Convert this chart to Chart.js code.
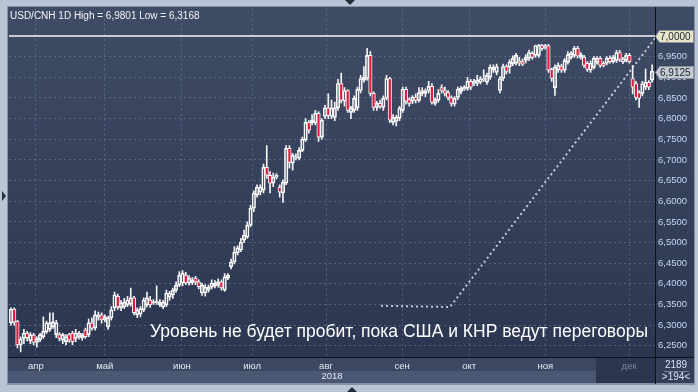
<!DOCTYPE html>
<html>
<head>
<meta charset="utf-8">
<script src="https://cdn.jsdelivr.net/npm/chart.js@4.4.1/dist/chart.umd.min.js"></script>
<style>
  html, body { margin: 0; padding: 0; background: #b9c5d5; overflow: hidden; }
  canvas { display: block; }
</style>
</head>
<body>
<canvas id="usdcnh" width="698" height="392"></canvas>
<script>
// USD/CNH daily candles (index 0 = first candle, late March 2018)
const opens = [
  6.306, 6.339, 6.310, 6.252, 6.268, 6.281, 6.262, 6.276, 6.258, 6.265,
  6.272, 6.284, 6.290, 6.296, 6.277, 6.277, 6.264, 6.260, 6.277, 6.281,
  6.268, 6.272, 6.270, 6.289, 6.277, 6.306, 6.293, 6.320, 6.325, 6.313,
  6.296, 6.318, 6.342, 6.370, 6.342, 6.344, 6.349, 6.351, 6.366, 6.325,
  6.327, 6.337, 6.349, 6.361, 6.354, 6.354, 6.349, 6.344, 6.349, 6.368,
  6.373, 6.385, 6.397, 6.402, 6.421, 6.402, 6.402, 6.414, 6.405, 6.378,
  6.378, 6.385, 6.392, 6.395, 6.397, 6.405, 6.385, 6.414, 6.441, 6.453,
  6.475, 6.482, 6.506, 6.513, 6.542, 6.583, 6.615, 6.622, 6.627, 6.682,
  6.663, 6.644, 6.658, 6.634, 6.620, 6.644, 6.728, 6.692, 6.704, 6.704,
  6.723, 6.748, 6.791, 6.790, 6.790, 6.813, 6.755, 6.805, 6.826, 6.805,
  6.803, 6.826, 6.885, 6.842, 6.868, 6.815, 6.820, 6.826, 6.868, 6.893,
  6.897, 6.953, 6.861, 6.827, 6.837, 6.827, 6.849, 6.897, 6.791, 6.793,
  6.801, 6.820, 6.871, 6.846, 6.842, 6.852, 6.844, 6.861, 6.861, 6.868,
  6.878, 6.837, 6.844, 6.875, 6.868, 6.863, 6.851, 6.835, 6.851, 6.866,
  6.871, 6.873, 6.890, 6.885, 6.885, 6.888, 6.893, 6.888, 6.900, 6.917,
  6.912, 6.868, 6.897, 6.926, 6.925, 6.933, 6.934, 6.940, 6.938, 6.941,
  6.946, 6.958, 6.953, 6.953, 6.977, 6.972, 6.977, 6.919, 6.875, 6.917,
  6.926, 6.917, 6.936, 6.948, 6.953, 6.970, 6.948, 6.948, 6.934, 6.917,
  6.924, 6.936, 6.946, 6.934, 6.934, 6.946, 6.938, 6.941, 6.960, 6.943,
  6.941, 6.953, 6.897, 6.885, 6.863, 6.861, 6.876, 6.888, 6.893
];
const highs = [
  6.342, 6.342, 6.312, 6.272, 6.290, 6.285, 6.282, 6.280, 6.272, 6.280,
  6.320, 6.310, 6.330, 6.330, 6.312, 6.282, 6.280, 6.277, 6.280, 6.285,
  6.290, 6.285, 6.280, 6.293, 6.315, 6.318, 6.335, 6.332, 6.330, 6.325,
  6.322, 6.345, 6.380, 6.375, 6.360, 6.365, 6.370, 6.390, 6.370, 6.342,
  6.345, 6.366, 6.380, 6.370, 6.362, 6.395, 6.362, 6.360, 6.385, 6.382,
  6.390, 6.405, 6.430, 6.432, 6.428, 6.420, 6.415, 6.418, 6.410, 6.402,
  6.398, 6.397, 6.410, 6.408, 6.412, 6.410, 6.425, 6.425, 6.460, 6.490,
  6.492, 6.510, 6.530, 6.550, 6.590, 6.625, 6.640, 6.640, 6.690, 6.735,
  6.672, 6.668, 6.667, 6.640, 6.652, 6.735, 6.735, 6.716, 6.715, 6.730,
  6.755, 6.800, 6.795, 6.810, 6.820, 6.817, 6.800, 6.832, 6.860, 6.845,
  6.840, 6.895, 6.910, 6.875, 6.870, 6.830, 6.855, 6.876, 6.905, 6.926,
  6.970, 6.962, 6.865, 6.842, 6.845, 6.855, 6.905, 6.900, 6.810, 6.808,
  6.830, 6.876, 6.876, 6.850, 6.856, 6.860, 6.875, 6.875, 6.872, 6.890,
  6.885, 6.850, 6.870, 6.882, 6.876, 6.868, 6.855, 6.853, 6.876, 6.878,
  6.880, 6.900, 6.895, 6.895, 6.905, 6.902, 6.918, 6.910, 6.930, 6.930,
  6.932, 6.902, 6.932, 6.930, 6.942, 6.952, 6.958, 6.948, 6.944, 6.955,
  6.966, 6.962, 6.978, 6.980, 6.980, 6.980, 6.980, 6.922, 6.930, 6.935,
  6.932, 6.946, 6.962, 6.962, 6.975, 6.975, 6.960, 6.953, 6.938, 6.940,
  6.950, 6.950, 6.950, 6.938, 6.950, 6.952, 6.953, 6.965, 6.965, 6.948,
  6.958, 6.958, 6.929, 6.890, 6.868, 6.890, 6.920, 6.892, 6.930
];
const lows = [
  6.300, 6.300, 6.245, 6.235, 6.255, 6.262, 6.255, 6.252, 6.247, 6.260,
  6.268, 6.280, 6.285, 6.292, 6.270, 6.262, 6.255, 6.252, 6.258, 6.252,
  6.260, 6.266, 6.264, 6.268, 6.272, 6.288, 6.288, 6.312, 6.305, 6.308,
  6.290, 6.312, 6.335, 6.338, 6.335, 6.340, 6.345, 6.346, 6.325, 6.318,
  6.320, 6.333, 6.344, 6.343, 6.350, 6.350, 6.345, 6.340, 6.345, 6.360,
  6.365, 6.380, 6.393, 6.395, 6.398, 6.397, 6.398, 6.398, 6.388, 6.372,
  6.370, 6.380, 6.388, 6.390, 6.392, 6.385, 6.382, 6.410, 6.436, 6.448,
  6.470, 6.478, 6.500, 6.510, 6.538, 6.575, 6.610, 6.615, 6.620, 6.655,
  6.620, 6.635, 6.654, 6.610, 6.597, 6.640, 6.680, 6.675, 6.700, 6.700,
  6.720, 6.745, 6.765, 6.785, 6.785, 6.745, 6.750, 6.800, 6.800, 6.800,
  6.795, 6.820, 6.838, 6.830, 6.815, 6.800, 6.815, 6.820, 6.862, 6.888,
  6.893, 6.855, 6.820, 6.820, 6.825, 6.820, 6.845, 6.790, 6.785, 6.782,
  6.795, 6.815, 6.835, 6.830, 6.836, 6.838, 6.840, 6.855, 6.853, 6.862,
  6.835, 6.832, 6.840, 6.862, 6.855, 6.845, 6.830, 6.830, 6.846, 6.860,
  6.868, 6.868, 6.870, 6.880, 6.880, 6.884, 6.890, 6.883, 6.895, 6.912,
  6.906, 6.862, 6.892, 6.908, 6.910, 6.928, 6.930, 6.928, 6.928, 6.935,
  6.940, 6.943, 6.948, 6.948, 6.965, 6.968, 6.912, 6.890, 6.856, 6.912,
  6.912, 6.912, 6.932, 6.944, 6.948, 6.946, 6.944, 6.924, 6.914, 6.912,
  6.920, 6.932, 6.924, 6.925, 6.930, 6.934, 6.934, 6.936, 6.938, 6.933,
  6.937, 6.934, 6.860, 6.845, 6.827, 6.855, 6.870, 6.870, 6.888
];
const closes = [
  6.339, 6.308, 6.252, 6.267, 6.281, 6.270, 6.277, 6.258, 6.267, 6.277,
  6.285, 6.306, 6.306, 6.308, 6.306, 6.268, 6.277, 6.272, 6.264, 6.260,
  6.281, 6.281, 6.277, 6.272, 6.306, 6.293, 6.325, 6.325, 6.313, 6.320,
  6.318, 6.337, 6.373, 6.344, 6.354, 6.356, 6.361, 6.366, 6.330, 6.337,
  6.340, 6.361, 6.366, 6.349, 6.357, 6.358, 6.356, 6.356, 6.378, 6.378,
  6.385, 6.397, 6.421, 6.426, 6.402, 6.414, 6.409, 6.405, 6.393, 6.397,
  6.392, 6.392, 6.402, 6.402, 6.405, 6.390, 6.417, 6.421, 6.453, 6.477,
  6.487, 6.501, 6.518, 6.542, 6.583, 6.620, 6.634, 6.634, 6.682, 6.663,
  6.644, 6.658, 6.663, 6.622, 6.646, 6.728, 6.694, 6.711, 6.707, 6.723,
  6.750, 6.791, 6.772, 6.796, 6.813, 6.755, 6.796, 6.826, 6.808, 6.826,
  6.826, 6.885, 6.844, 6.868, 6.820, 6.826, 6.849, 6.871, 6.897, 6.900,
  6.953, 6.861, 6.827, 6.837, 6.830, 6.849, 6.897, 6.796, 6.803, 6.803,
  6.825, 6.871, 6.842, 6.837, 6.852, 6.844, 6.863, 6.868, 6.868, 6.878,
  6.839, 6.846, 6.861, 6.868, 6.861, 6.851, 6.837, 6.849, 6.871, 6.873,
  6.876, 6.890, 6.876, 6.890, 6.893, 6.897, 6.897, 6.905, 6.924, 6.924,
  6.926, 6.897, 6.926, 6.914, 6.937, 6.946, 6.953, 6.934, 6.932, 6.948,
  6.960, 6.948, 6.977, 6.978, 6.970, 6.977, 6.917, 6.897, 6.924, 6.929,
  6.917, 6.941, 6.955, 6.958, 6.970, 6.951, 6.955, 6.929, 6.919, 6.934,
  6.946, 6.946, 6.929, 6.929, 6.946, 6.938, 6.948, 6.960, 6.943, 6.938,
  6.953, 6.938, 6.876, 6.851, 6.849, 6.885, 6.888, 6.876, 6.915
];

// month grid lines sit at these candle positions
const monthTicks = [7.7, 29.0, 52.8, 74.5, 97.3, 120.8, 141.5, 165.0, 190.9];
const monthNames = ['апр', 'май', 'июн', 'июл', 'авг', 'сен', 'окт', 'ноя', 'дек'];
const priceTicks = [6.25, 6.30, 6.35, 6.40, 6.45, 6.50, 6.55, 6.60, 6.65, 6.70, 6.75, 6.80, 6.85, 6.90, 6.95, 7.00];

// drawn trend line (candle position, price) and the 7.0 level
const trendX = [114.3, 135.6, 198.9];
const trendY = [6.347, 6.344, 6.994];
const levelPrice = 7.0;
const lastPrice = 6.9125;

const headerText = 'USD/CNH 1D High = 6,9801 Low = 6,3168';
const captionText = 'Уровень не будет пробит, пока США и КНР ведут переговоры';
const yearText = '2018';
const barsTotal = '2189';
const barsShown = '>194<';

const xMin = -0.6, xMax = 198.9;
const FONT = "'Liberation Sans', Arial, sans-serif";
const fmt = v => v.toFixed(4).replace('.', ',');

const bodies = closes.map((c, i) => ({ x: i, y: [opens[i], c] }));
const wickLow = closes.map((c, i) => ({ x: i, y: [lows[i], Math.min(opens[i], c)] }));
const wickHigh = closes.map((c, i) => ({ x: i, y: [Math.max(opens[i], c), highs[i]] }));

function priceBox(ctx, y, text, fill) {
    ctx.beginPath();
    ctx.moveTo(655.5, y);
    ctx.lineTo(659.5, y - 6);
    ctx.lineTo(693.5, y - 6);
    ctx.lineTo(693.5, y + 6);
    ctx.lineTo(659.5, y + 6);
    ctx.closePath();
    ctx.fillStyle = fill;
    ctx.fill();
    ctx.strokeStyle = '#8d919a';
    ctx.lineWidth = 1;
    ctx.stroke();
    ctx.fillStyle = '#1e2330';
    ctx.font = '10px ' + FONT;
    ctx.textAlign = 'left';
    ctx.textBaseline = 'middle';
    ctx.fillText(text, 660, y + 0.5);
}

function tri(ctx, pts) {
    ctx.beginPath();
    ctx.moveTo(pts[0], pts[1]);
    ctx.lineTo(pts[2], pts[3]);
    ctx.lineTo(pts[4], pts[5]);
    ctx.closePath();
    ctx.fill();
}

const frame = {
    id: 'frame',
    beforeDraw(chart) {
        const { ctx, chartArea: a } = chart;
        ctx.save();
        ctx.fillStyle = '#b9c5d5';
        ctx.fillRect(0, 0, chart.width, chart.height);
        ctx.fillStyle = '#8592a6';
        ctx.fillRect(7, 6, 688, 379);
        //fond du graphique + colonne de droite
        const g = ctx.createLinearGradient(0, a.top, 0, a.bottom);
        g.addColorStop(0, '#3f4c66');
        g.addColorStop(1, '#2c3651');
        ctx.fillStyle = g;
        ctx.fillRect(8, 7, 686, a.bottom - 7);
        //bande des mois
        ctx.fillStyle = '#3c4862';
        ctx.fillRect(8, a.bottom, 647, 14);
        ctx.fillStyle = '#4a5873';
        ctx.fillRect(8, a.bottom + 14, 647, 12);
        ctx.fillStyle = '#2c3650';
        ctx.fillRect(596, a.bottom, 59, 26);
        ctx.fillStyle = '#34405a';
        ctx.fillRect(655, a.bottom, 39, 26);
        ctx.restore();
    },
    afterDraw(chart) {
        const { ctx, chartArea: a, scales } = chart;
        ctx.save();
        //séparateurs noirs
        ctx.strokeStyle = '#0d1118';
        ctx.lineWidth = 1;
        ctx.beginPath();
        ctx.moveTo(655.5, 7);
        ctx.lineTo(655.5, 384);
        ctx.moveTo(8, a.bottom + 0.5);
        ctx.lineTo(694, a.bottom + 0.5);
        ctx.stroke();

        priceBox(ctx, Math.round(scales.y.getPixelForValue(levelPrice)) + 0.5, fmt(levelPrice), '#e6e4c9');
        priceBox(ctx, Math.round(scales.y.getPixelForValue(lastPrice)) + 0.5, fmt(lastPrice), '#c6cbd3');

        ctx.fillStyle = '#f2f4f8';
        ctx.font = '10px ' + FONT;
        ctx.textAlign = 'left';
        ctx.textBaseline = 'alphabetic';
        ctx.fillText(headerText, 10, 19);

        ctx.fillStyle = '#ffffff';
        ctx.font = '17.5px ' + FONT;
        ctx.fillText(captionText, 150, 337);

        //compteur en bas à droite
        ctx.fillStyle = '#d6e2f2';
        ctx.font = '10px ' + FONT;
        ctx.textAlign = 'center';
        ctx.textBaseline = 'middle';
        ctx.fillText(barsTotal, 676, a.bottom + 8);
        ctx.fillText(barsShown, 676, a.bottom + 20);
        ctx.strokeStyle = '#76839a';
        ctx.beginPath();
        ctx.moveTo(664, a.bottom + 14.5);
        ctx.lineTo(689, a.bottom + 14.5);
        ctx.stroke();

        ctx.fillStyle = '#262d3c';
        tri(ctx, [345, 0, 355, 0, 350, 5]);
        tri(ctx, [347, 392, 357, 392, 352, 387]);
        tri(ctx, [2, 191, 2, 201, 6, 196]);
        ctx.restore();
    }
};

new Chart(document.getElementById('usdcnh'), {
    type: 'bar',
    data: {
        datasets: [
            {
                type: 'line',
                data: trendX.map((x, i) => ({ x: x, y: trendY[i] })),
                borderColor: 'rgba(225,228,235,0.85)',
                borderWidth: 2,
                borderDash: [2, 3],
                pointRadius: 0,
                order: -2,
            },
            {
                type: 'line',
                data: [{ x: xMin, y: levelPrice }, { x: xMax, y: levelPrice }],
                borderColor: '#f4f4f4',
                borderWidth: 1.5,
                pointRadius: 0,
                order: -1,
            },
            {
                data: bodies,
                backgroundColor: ctx => closes[ctx.dataIndex] < opens[ctx.dataIndex] ? '#e3163c' : 'rgba(0,0,0,0)',
                borderColor: '#f8f8f8',
                borderWidth: 1,
                borderSkipped: false,
                barThickness: 3.5,
                grouped: false,
                order: 0,
            },
            {
                data: wickLow,
                backgroundColor: '#f4f4f4',
                barThickness: 1,
                grouped: false,
                order: 1,
            },
            {
                data: wickHigh,
                backgroundColor: '#f4f4f4',
                barThickness: 1,
                grouped: false,
                order: 1,
            },
        ]
    },
    options: {
        responsive: false,
        devicePixelRatio: 1,
        animation: false,
        layout: { padding: { left: 9, top: 8, right: 4, bottom: 9 } },
        plugins: {
            legend: { display: false },
            tooltip: { enabled: false },
        },
        scales: {
            x: {
                type: 'linear',
                min: xMin,
                max: xMax,
                offset: false,
                afterBuildTicks: s => { s.ticks = monthTicks.map(v => ({ value: v })); },
                afterFit: s => { s.height = 26; },
                grid: {
                    offset: false,
                    color: 'rgba(125,140,168,0.5)',
                    drawTicks: false,
                },
                border: { display: false, dash: [2, 3] },
                ticks: {
                    autoSkip: false,
                    maxRotation: 0,
                    padding: 4,
                    color: ctx => ctx.index === monthNames.length - 1 ? '#7b889d' : '#e4eaf3',
                    font: { family: FONT, size: 9.5 },
                    callback: (v, i) => monthNames[i],
                },
                title: {
                    display: true,
                    text: yearText,
                    color: '#e4eaf3',
                    font: { family: FONT, size: 9.5 },
                    padding: { top: 1, bottom: 1 },
                },
            },
            y: {
                position: 'right',
                min: 6.223,
                max: 7.066,
                afterBuildTicks: s => { s.ticks = priceTicks.map(v => ({ value: v })); },
                afterFit: s => { s.width = 39; },
                grid: {
                    color: 'rgba(125,140,168,0.5)',
                    drawTicks: false,
                },
                border: { display: false, dash: [2, 3] },
                ticks: {
                    padding: 3,
                    color: '#c4d8f2',
                    font: { family: FONT, size: 9.5 },
                    callback: v => fmt(v),
                },
            },
        },
    },
    plugins: [frame],
});
</script>
</body>
</html>
